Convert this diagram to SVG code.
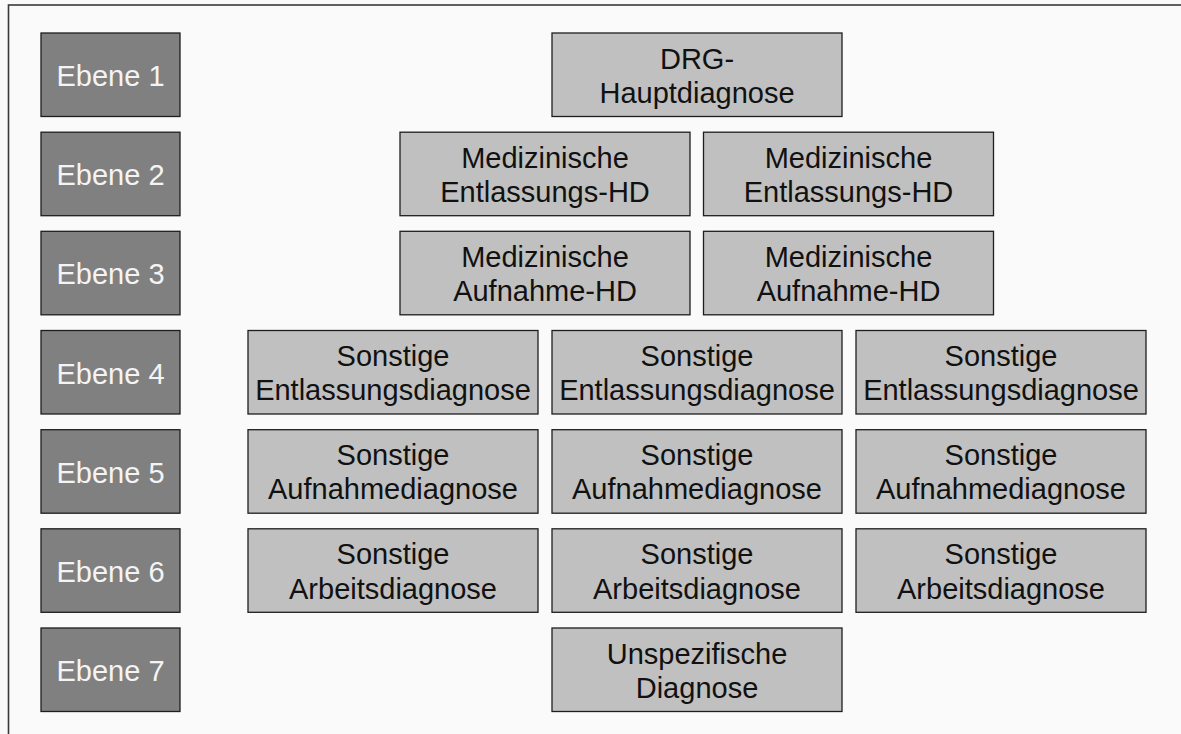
<svg xmlns="http://www.w3.org/2000/svg" width="1181" height="734" viewBox="0 0 1181 734">
<style>
.lvl{fill:#808080;stroke:#1e1e1e;stroke-width:1.3}
.nd{fill:#c0c0c0;stroke:#1e1e1e;stroke-width:1.3}
.lt{font-family:"Liberation Sans",Arial,sans-serif;font-size:29px;fill:#f4f4f4;text-anchor:middle}
.t{font-family:"Liberation Sans",Arial,sans-serif;font-size:29px;fill:#111;text-anchor:middle}
</style>
<rect x="0" y="0" width="1181" height="734" fill="#fafafa"/>
<rect x="8.5" y="5" width="1200" height="760" fill="none" stroke="#3a3a3a" stroke-width="1.6"/>
<g id="ebene1"><rect class="lvl" x="41" y="33" width="139" height="83.5"/><text class="lt" x="110.5" y="86">Ebene 1</text></g>
<g id="ebene2"><rect class="lvl" x="41" y="132.2" width="139" height="83.5"/><text class="lt" x="110.5" y="185.2">Ebene 2</text></g>
<g id="ebene3"><rect class="lvl" x="41" y="231.3" width="139" height="83.5"/><text class="lt" x="110.5" y="284.3">Ebene 3</text></g>
<g id="ebene4"><rect class="lvl" x="41" y="330.5" width="139" height="83.5"/><text class="lt" x="110.5" y="383.5">Ebene 4</text></g>
<g id="ebene5"><rect class="lvl" x="41" y="429.7" width="139" height="83.5"/><text class="lt" x="110.5" y="482.7">Ebene 5</text></g>
<g id="ebene6"><rect class="lvl" x="41" y="528.8" width="139" height="83.5"/><text class="lt" x="110.5" y="581.8">Ebene 6</text></g>
<g id="ebene7"><rect class="lvl" x="41" y="628" width="139" height="83.5"/><text class="lt" x="110.5" y="681">Ebene 7</text></g>

<g id="drg"><rect class="nd" x="552" y="33" width="290" height="83.5"/><text class="t" x="697" y="68.5">DRG-</text><text class="t" x="697" y="102.7">Hauptdiagnose</text></g>

<g id="entl-hd-1"><rect class="nd" x="400" y="132.2" width="290" height="83.5"/><text class="t" x="545" y="167.7">Medizinische</text><text class="t" x="545" y="201.9">Entlassungs-HD</text></g>
<g id="entl-hd-2"><rect class="nd" x="703.5" y="132.2" width="290" height="83.5"/><text class="t" x="848.5" y="167.7">Medizinische</text><text class="t" x="848.5" y="201.9">Entlassungs-HD</text></g>

<g id="aufn-hd-1"><rect class="nd" x="400" y="231.3" width="290" height="83.5"/><text class="t" x="545" y="266.8">Medizinische</text><text class="t" x="545" y="301">Aufnahme-HD</text></g>
<g id="aufn-hd-2"><rect class="nd" x="703.5" y="231.3" width="290" height="83.5"/><text class="t" x="848.5" y="266.8">Medizinische</text><text class="t" x="848.5" y="301">Aufnahme-HD</text></g>

<g id="sonst-entl-1"><rect class="nd" x="248" y="330.5" width="290" height="83.5"/><text class="t" x="393" y="366">Sonstige</text><text class="t" x="393" y="400.2">Entlassungsdiagnose</text></g>
<g id="sonst-entl-2"><rect class="nd" x="552" y="330.5" width="290" height="83.5"/><text class="t" x="697" y="366">Sonstige</text><text class="t" x="697" y="400.2">Entlassungsdiagnose</text></g>
<g id="sonst-entl-3"><rect class="nd" x="856" y="330.5" width="290" height="83.5"/><text class="t" x="1001" y="366">Sonstige</text><text class="t" x="1001" y="400.2">Entlassungsdiagnose</text></g>

<g id="sonst-aufn-1"><rect class="nd" x="248" y="429.7" width="290" height="83.5"/><text class="t" x="393" y="465.2">Sonstige</text><text class="t" x="393" y="499.4">Aufnahmediagnose</text></g>
<g id="sonst-aufn-2"><rect class="nd" x="552" y="429.7" width="290" height="83.5"/><text class="t" x="697" y="465.2">Sonstige</text><text class="t" x="697" y="499.4">Aufnahmediagnose</text></g>
<g id="sonst-aufn-3"><rect class="nd" x="856" y="429.7" width="290" height="83.5"/><text class="t" x="1001" y="465.2">Sonstige</text><text class="t" x="1001" y="499.4">Aufnahmediagnose</text></g>

<g id="sonst-arb-1"><rect class="nd" x="248" y="528.8" width="290" height="83.5"/><text class="t" x="393" y="564.3">Sonstige</text><text class="t" x="393" y="598.5">Arbeitsdiagnose</text></g>
<g id="sonst-arb-2"><rect class="nd" x="552" y="528.8" width="290" height="83.5"/><text class="t" x="697" y="564.3">Sonstige</text><text class="t" x="697" y="598.5">Arbeitsdiagnose</text></g>
<g id="sonst-arb-3"><rect class="nd" x="856" y="528.8" width="290" height="83.5"/><text class="t" x="1001" y="564.3">Sonstige</text><text class="t" x="1001" y="598.5">Arbeitsdiagnose</text></g>

<g id="unspez"><rect class="nd" x="552" y="628" width="290" height="83.5"/><text class="t" x="697" y="663.5">Unspezifische</text><text class="t" x="697" y="697.7">Diagnose</text></g>
<g id="connectors"></g>
</svg>
